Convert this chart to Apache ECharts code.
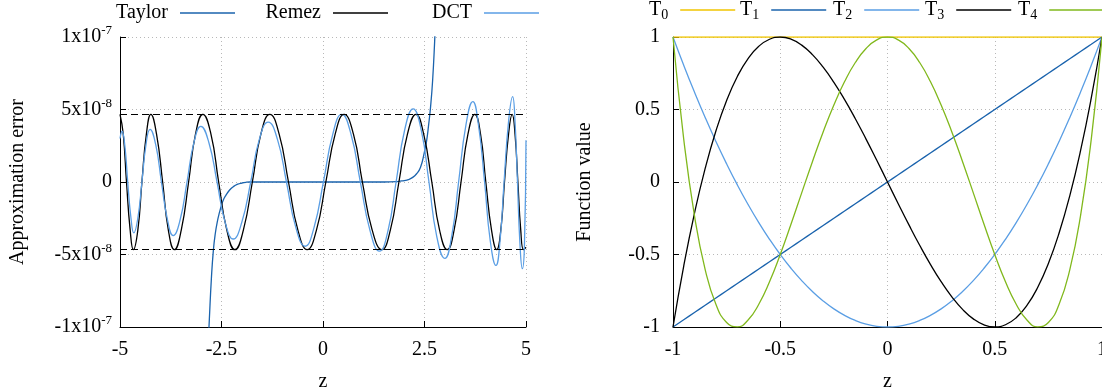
<!DOCTYPE html>
<html>
<head>
<meta charset="utf-8">
<script src="https://cdn.jsdelivr.net/npm/echarts@6/dist/echarts.min.js"></script>
<style>
  html, body { margin: 0; padding: 0; background: #fff; }
  #chart { width: 1102px; height: 392px; }
</style>
</head>
<body>
<div id="chart"></div>
<script>
// left panel: approximation error, values in units of 1e-8
const errTickValues = [-10, -5, 0, 5, 10];
const errTickText = ['-1x10{sup|-7}', '-5x10{sup|-8}', '0', '5x10{sup|-8}', '1x10{sup|-7}'];
const remezBounds = [4.67, -4.67];

const taylorZ = [-2.85, -2.8, -2.75, -2.7, -2.65, -2.6, -2.55, -2.5, -2.45, -2.4, -2.3, -2.2, -2.1, -2.0, -1.9, -1.8, -1.5, 0,
  1.5, 1.8, 1.9, 2.0, 2.1, 2.2, 2.3, 2.4, 2.5, 2.55, 2.6, 2.65, 2.7, 2.75, 2.8];
const taylorErr = [-12.5, -9.5, -6.7, -4.7, -3.5, -2.7, -2.1, -1.6, -1.2, -0.95, -0.55, -0.3, -0.15, -0.07, -0.02, 0, 0, 0,
  0, 0.02, 0.06, 0.1, 0.16, 0.3, 0.55, 1.0, 2.1, 2.8, 3.9, 5.2, 7.0, 9.7, 13];

const remezZ = [-5.00, -4.92, -4.84, -4.75, -4.67, -4.56, -4.46, -4.35, -4.24, -4.10, -3.95, -3.81, -3.66, -3.49, -3.31, -3.14,
  -2.96, -2.76, -2.57, -2.37, -2.17, -1.96, -1.74, -1.53, -1.31, -1.08, -0.85, -0.62, -0.39, -0.16, 0.07, 0.30,
  0.52, 0.75, 0.97, 1.21, 1.45, 1.66, 1.87, 2.08, 2.29, 2.48, 2.68, 2.87, 3.06, 3.23, 3.40, 3.57,
  3.74, 3.88, 4.01, 4.15, 4.28, 4.38, 4.47, 4.57, 4.66, 4.73, 4.80, 4.87, 4.94, 5.00];
const remezErr = [4.67, 3.30, 0, -3.30, -4.67, -3.30, 0, 3.30, 4.67, 3.30, 0, -3.30, -4.67, -3.30, 0, 3.30,
  4.67, 3.30, 0, -3.30, -4.67, -3.30, 0, 3.30, 4.67, 3.30, 0, -3.30, -4.67, -3.30, 0, 3.30,
  4.67, 3.30, 0, -3.30, -4.67, -3.30, 0, 3.30, 4.67, 3.30, 0, -3.30, -4.67, -3.30, 0, 3.30,
  4.67, 3.30, 0, -3.30, -4.67, -3.30, 0, 3.30, 4.67, 3.30, 0, -3.30, -4.67, -4.5];

const dctZ = [-5.00, -4.95, -4.88, -4.81, -4.73, -4.66, -4.56, -4.46, -4.36, -4.26, -4.12, -3.98, -3.83, -3.69, -3.52, -3.35,
  -3.18, -3.01, -2.81, -2.61, -2.41, -2.21, -2.00, -1.78, -1.57, -1.35, -1.12, -0.90, -0.67, -0.44, -0.22, 0.01,
  0.24, 0.46, 0.69, 0.92, 1.16, 1.39, 1.60, 1.80, 2.01, 2.22, 2.42, 2.61, 2.80, 3.00, 3.17, 3.34,
  3.52, 3.69, 3.83, 3.98, 4.12, 4.26, 4.36, 4.46, 4.57, 4.67, 4.73, 4.79, 4.85, 4.91, 4.96, 5.00];
const dctErr = [3.00, 3.50, 2.47, 0, -2.48, -3.51, -2.48, 0, 2.57, 3.63, 2.57, 0, -2.62, -3.70, -2.62, 0,
  2.71, 3.84, 2.71, 0, -2.78, -3.93, -2.78, 0, 2.92, 4.13, 2.92, 0, -3.13, -4.43, -3.13, 0,
  3.29, 4.66, 3.29, 0, -3.37, -4.77, -3.37, 0, 3.57, 5.05, 3.57, 0, -3.73, -5.27, -3.73, 0,
  3.92, 5.55, 3.92, 0, -4.07, -5.75, -4.07, 0, 4.16, 5.89, 4.16, 0, -4.23, -5.98, -4.5, 2.88];

// right panel: Chebyshev polynomials read at steps of 0.05
const chebX = [-1, -0.95, -0.9, -0.85, -0.8, -0.75, -0.7, -0.65, -0.6, -0.55, -0.5, -0.45, -0.4, -0.35, -0.3, -0.25, -0.2,
  -0.15, -0.1, -0.05, 0, 0.05, 0.1, 0.15, 0.2, 0.25, 0.3, 0.35, 0.4, 0.45, 0.5, 0.55, 0.6, 0.65, 0.7, 0.75, 0.8, 0.85,
  0.9, 0.95, 1];
const t0 = [1, 1, 1, 1, 1, 1, 1, 1, 1, 1, 1, 1, 1, 1, 1, 1, 1, 1, 1, 1, 1, 1, 1, 1, 1, 1, 1, 1, 1, 1, 1, 1, 1, 1, 1, 1, 1, 1, 1, 1, 1];
const t1 = [-1, -0.95, -0.9, -0.85, -0.8, -0.75, -0.7, -0.65, -0.6, -0.55, -0.5, -0.45, -0.4, -0.35, -0.3, -0.25, -0.2,
  -0.15, -0.1, -0.05, 0, 0.05, 0.1, 0.15, 0.2, 0.25, 0.3, 0.35, 0.4, 0.45, 0.5, 0.55, 0.6, 0.65, 0.7, 0.75, 0.8, 0.85,
  0.9, 0.95, 1];
const t2 = [1, 0.805, 0.62, 0.445, 0.28, 0.125, -0.02, -0.155, -0.28, -0.395, -0.5, -0.595, -0.68, -0.755, -0.82, -0.875,
  -0.92, -0.955, -0.98, -0.995, -1, -0.995, -0.98, -0.955, -0.92, -0.875, -0.82, -0.755, -0.68, -0.595, -0.5, -0.395,
  -0.28, -0.155, -0.02, 0.125, 0.28, 0.445, 0.62, 0.805, 1];
const t3 = [-1, -0.5795, -0.216, 0.0935, 0.352, 0.5625, 0.728, 0.8515, 0.936, 0.9845, 1, 0.9855, 0.944, 0.8785, 0.792,
  0.6875, 0.568, 0.4365, 0.296, 0.1495, 0, -0.1495, -0.296, -0.4365, -0.568, -0.6875, -0.792, -0.8785, -0.944, -0.9855,
  -1, -0.9845, -0.936, -0.8515, -0.728, -0.5625, -0.352, -0.0935, 0.216, 0.5795, 1];
const t4 = [1, 0.29605, -0.2312, -0.60395, -0.8432, -0.96875, -0.9992, -0.95195, -0.8432, -0.68795, -0.5, -0.29195,
  -0.0752, 0.14005, 0.3448, 0.53125, 0.6928, 0.82405, 0.9208, 0.98005, 1, 0.98005, 0.9208, 0.82405, 0.6928, 0.53125,
  0.3448, 0.14005, -0.0752, -0.29195, -0.5, -0.68795, -0.8432, -0.95195, -0.9992, -0.96875, -0.8432, -0.60395, -0.2312,
  0.29605, 1];

const font = 'Liberation Serif';
const colors = {
  Taylor: '#1a63ad', Remez: '#000000', DCT: '#5a9ee4',
  T0: '#f0c400', T1: '#1a63ad', T2: '#5a9ee4', T3: '#000000', T4: '#80b81c'
};

const zip = (xs, ys) => xs.map((x, i) => [x, ys[i]]);
const isCheb = n => /^T\d$/.test(n);

const txt = { fontFamily: font, fontSize: 20, color: '#000' };
const rich = {
  sup: { fontFamily: font, fontSize: 13, color: '#000', padding: [0, 0, 12, 0] },
  sub: { fontFamily: font, fontSize: 14, color: '#000', padding: [10, 0, 0, 0] }
};

const grid = (left, width) => ({
  left: left, top: 37, width: width, height: 290, outerBoundsMode: 'none', containLabel: false
});

const axisCommon = {
  type: 'value',
  axisLine: { show: true, onZero: false, lineStyle: { color: '#000', width: 1 } },
  axisTick: { show: true, inside: true, length: 6, lineStyle: { color: '#000' } },
  splitLine: { show: true, lineStyle: { color: '#b8b8b8', type: [1, 3], width: 1 } },
  nameTextStyle: txt,
  nameLocation: 'middle'
};

// pos: [side, px] where side is 'left' (text start) or 'right' (line end)
const legend = (name, side, px) => ({
  data: [name],
  [side]: px,
  top: isCheb(name) ? 0 : 3,
  padding: 0,
  align: 'right',
  icon: 'rect',
  itemWidth: 55,
  itemHeight: 1.4,
  selectedMode: false,
  textStyle: Object.assign({}, txt, { padding: [0, 7, 0, 0], rich: rich }),
  formatter: n => isCheb(n) ? 'T{sub|' + n.slice(1) + '}' : n
});

const line = (name, data, xi) => ({
  name: name,
  type: 'line',
  xAxisIndex: xi,
  yAxisIndex: xi,
  data: data,
  smooth: true,
  showSymbol: false,
  silent: true,
  lineStyle: { color: colors[name], width: 1.3 },
  itemStyle: { color: colors[name] }
});

const remez = line('Remez', zip(remezZ, remezErr), 0);
remez.markLine = {
  silent: true,
  symbol: 'none',
  label: { show: false },
  lineStyle: { color: '#000', type: [7, 4], width: 1.2 },
  data: remezBounds.map(v => ({ yAxis: v }))
};

const option = {
  animation: false,
  backgroundColor: '#fff',
  grid: [grid(120, 406), grid(673, 429)],
  legend: [
    legend('Taylor', 'right', 1102 - 235), legend('Remez', 'right', 1102 - 388), legend('DCT', 'right', 1102 - 539),
    legend('T0', 'left', 649), legend('T1', 'left', 740), legend('T2', 'left', 833),
    legend('T3', 'left', 925), legend('T4', 'left', 1018)
  ],
  xAxis: [
    Object.assign({}, axisCommon, {
      gridIndex: 0, min: -5, max: 5, interval: 2.5, name: 'z', nameGap: 45,
      axisLabel: Object.assign({}, txt, { margin: 13 })
    }),
    Object.assign({}, axisCommon, {
      gridIndex: 1, min: -1, max: 1, interval: 0.5, name: 'z', nameGap: 45,
      axisLabel: Object.assign({}, txt, { margin: 13 })
    })
  ],
  yAxis: [
    Object.assign({}, axisCommon, {
      gridIndex: 0, min: -10, max: 10, interval: 5, name: 'Approximation error', nameGap: 92,
      axisLabel: Object.assign({}, txt, {
        margin: 8, rich: rich,
        formatter: v => errTickText[errTickValues.indexOf(v)]
      })
    }),
    Object.assign({}, axisCommon, {
      gridIndex: 1, min: -1, max: 1, interval: 0.5, name: 'Function value', nameGap: 78,
      axisLabel: Object.assign({}, txt, { margin: 13 })
    })
  ],
  series: [
    line('Taylor', zip(taylorZ, taylorErr), 0),
    remez,
    line('DCT', zip(dctZ, dctErr), 0),
    line('T0', zip(chebX, t0), 1),
    line('T1', zip(chebX, t1), 1),
    line('T2', zip(chebX, t2), 1),
    line('T3', zip(chebX, t3), 1),
    line('T4', zip(chebX, t4), 1)
  ]
};

const chart = echarts.init(document.getElementById('chart'), null, { renderer: 'canvas' });
chart.setOption(option);
</script>
</body>
</html>
